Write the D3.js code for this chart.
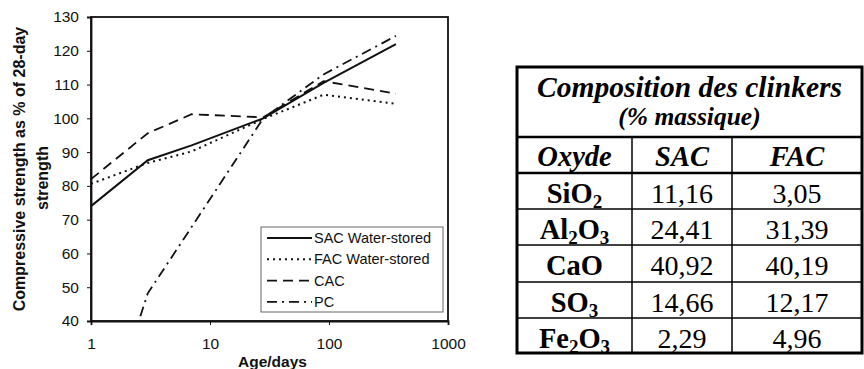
<!DOCTYPE html>
<html>
<head>
<meta charset="utf-8">
<script src="https://cdn.jsdelivr.net/npm/d3@7"></script>
<style>
  body { margin: 0; background: #fff; }
  svg { display: block; }
</style>
</head>
<body>
<script>
// chart data
let ages = [1, 3, 7, 28, 90, 365];
let sacWater = [74, 87.6, 92, 100, 110.5, 122];
let facWater = [80.6, 86.8, 90.2, 99.8, 107, 104.3];
let cac = [82, 95.6, 101.2, 100.3, 111, 107.3];
let pcAges = [2, 3, 7, 28, 90, 365];
let pc = [29, 48.2, 67.8, 100, 113, 124.4];
let seriesNames = ["SAC Water-stored", "FAC Water-stored", "CAC", "PC"];
let yTicks = [40, 50, 60, 70, 80, 90, 100, 110, 120, 130];
let xTicks = [1, 10, 100, 1000];

// table data
let tableTitle = "Composition des clinkers";
let tableSubtitle = "(% massique)";
let tableHeaders = ["Oxyde", "SAC", "FAC"];
let oxides = [["Si", "O", "2"], ["Al", "2", "O", "3"], ["CaO"], ["S", "O", "3"], ["Fe", "2", "O", "3"]];
let sacValues = ["11,16", "24,41", "40,92", "14,66", "2,29"];
let facValues = ["3,05", "31,39", "40,19", "12,17", "4,96"];

let svg = d3.select("body").append("svg")
	.attr("width", 864)
	.attr("height", 369);

let width = +svg.attr("width");
let height = +svg.attr("height");

let margin = { top: 17, left: 91, right: 416, bottom: 48 };
let innerWidth = width - margin.left - margin.right; //357
let innerHeight = height - margin.top - margin.bottom; //304

let x = d3.scaleLog().domain([1, 1000]).range([0, innerWidth]);
let y = d3.scaleLinear().domain([40, 130]).range([innerHeight, 0]);

let ink = "#111";
let sans = "'Liberation Sans', Arial, sans-serif";

let g = svg.append("g")
	.attr("transform", `translate(${margin.left}, ${margin.top})`);

g.append("clipPath").attr("id", "plotClip")
	.append("rect")
	.attr("width", innerWidth)
	.attr("height", innerHeight);

// plot frame
g.append("rect")
	.attr("width", innerWidth)
	.attr("height", innerHeight)
	.attr("fill", "none")
	.attr("stroke", ink)
	.attr("stroke-width", 1.8);

// axes
let yAxis = g.append("g")
	.call(d3.axisLeft(y).tickValues(yTicks).tickSize(4).tickPadding(8));
let xAxis = g.append("g")
	.attr("transform", `translate(0, ${innerHeight})`)
	.call(d3.axisBottom(x).tickValues(xTicks).tickFormat(d3.format("d")).tickSize(4).tickPadding(13));

[yAxis, xAxis].forEach(a => {
	a.attr("font-size", 15.5).attr("font-family", sans);
	a.select(".domain").attr("stroke", ink).attr("stroke-width", 1.8);
	a.selectAll(".tick line").attr("stroke", ink).attr("stroke-width", 1);
	a.selectAll("text").attr("fill", ink);
});

// series
let styles = [
	{ dash: null, w: 2 },
	{ dash: "2,4", w: 2 },
	{ dash: "10,6", w: 1.8 },
	{ dash: "10,5,2,5", w: 1.8 }
];
let series = [
	{ name: seriesNames[0], pts: ages.map((a, i) => [a, sacWater[i]]) },
	{ name: seriesNames[1], pts: ages.map((a, i) => [a, facWater[i]]) },
	{ name: seriesNames[2], pts: ages.map((a, i) => [a, cac[i]]) },
	{ name: seriesNames[3], pts: pcAges.map((a, i) => [a, pc[i]]) }
];

let line = d3.line()
	.x(d => x(d[0]))
	.y(d => y(d[1]));

g.append("g")
	.attr("clip-path", "url(#plotClip)")
	.selectAll("path")
	.data(series)
	.enter().append("path")
	.attr("d", d => line(d.pts))
	.attr("fill", "none")
	.attr("stroke", ink)
	.attr("stroke-width", (d, i) => styles[i].w)
	.attr("stroke-dasharray", (d, i) => styles[i].dash);

// legend
let legend = g.append("g")
	.attr("transform", "translate(170, 210)");

legend.append("rect")
	.attr("width", 182)
	.attr("height", 85)
	.attr("fill", "#fff")
	.attr("stroke", "#666")
	.attr("stroke-width", 1);

let rows = legend.selectAll(".row")
	.data(series)
	.enter().append("g")
	.attr("class", "row")
	.attr("transform", (d, i) => `translate(0, ${11 + i * 21.3})`);

rows.append("line")
	.attr("x1", 6).attr("x2", 51)
	.attr("stroke", ink)
	.attr("stroke-width", (d, i) => styles[i].w)
	.attr("stroke-dasharray", (d, i) => styles[i].dash);

rows.append("text")
	.attr("x", 53)
	.attr("dy", "0.35em")
	.attr("font-family", sans)
	.attr("font-size", 14.5)
	.attr("fill", ink)
	.text(d => d.name);

// axis titles
svg.append("text")
	.attr("transform", "translate(25, 169) rotate(-90)")
	.attr("text-anchor", "middle")
	.attr("font-family", sans)
	.attr("font-weight", "bold")
	.attr("font-size", 16)
	.attr("fill", ink)
	.text("Compressive strength as % of 28-day");

svg.append("text")
	.attr("transform", "translate(48, 178) rotate(-90)")
	.attr("text-anchor", "middle")
	.attr("font-family", sans)
	.attr("font-weight", "bold")
	.attr("font-size", 16)
	.attr("fill", ink)
	.text("strength");

svg.append("text")
	.attr("x", margin.left + innerWidth / 2 + 3)
	.attr("y", 367)
	.attr("text-anchor", "middle")
	.attr("font-family", sans)
	.attr("font-weight", "bold")
	.attr("font-size", 15.5)
	.attr("fill", ink)
	.text("Age/days");

/*
  TABLE
*/
let serif = "'Liberation Serif', 'Times New Roman', serif";
let tx = [517, 632, 732, 862];
let ty = [67, 137, 173, 209, 245, 282, 318, 353];

let t = svg.append("g");

// inner thin lines
for (let i = 3; i < ty.length - 1; i++) {
	t.append("line").attr("x1", tx[0]).attr("x2", tx[3]).attr("y1", ty[i]).attr("y2", ty[i])
		.attr("stroke", "#000").attr("stroke-width", 1.5);
}
[1, 2].forEach(i => {
	t.append("line").attr("x1", tx[0]).attr("x2", tx[3]).attr("y1", ty[i]).attr("y2", ty[i])
		.attr("stroke", "#000").attr("stroke-width", 2.5);
});
[1, 2].forEach(i => {
	t.append("line").attr("x1", tx[i]).attr("x2", tx[i]).attr("y1", ty[1]).attr("y2", ty[7])
		.attr("stroke", "#000").attr("stroke-width", 1.5);
});
t.append("rect")
	.attr("x", tx[0]).attr("y", ty[0])
	.attr("width", tx[3] - tx[0]).attr("height", ty[7] - ty[0])
	.attr("fill", "none").attr("stroke", "#000").attr("stroke-width", 3);

let cx = [(tx[0] + tx[1]) / 2, (tx[1] + tx[2]) / 2, (tx[2] + tx[3]) / 2];
let tableMid = (tx[0] + tx[3]) / 2;

t.append("text")
	.attr("x", tableMid).attr("y", 97)
	.attr("text-anchor", "middle")
	.attr("font-family", serif).attr("font-weight", "bold").attr("font-style", "italic")
	.attr("font-size", 29.5)
	.text(tableTitle);

t.append("text")
	.attr("x", tableMid).attr("y", 125)
	.attr("text-anchor", "middle")
	.attr("font-family", serif).attr("font-weight", "bold").attr("font-style", "italic")
	.attr("font-size", 25.5)
	.text(tableSubtitle);

t.selectAll(".hdr")
	.data(tableHeaders)
	.enter().append("text")
	.attr("class", "hdr")
	.attr("x", (d, i) => cx[i]).attr("y", 166)
	.attr("text-anchor", "middle")
	.attr("font-family", serif).attr("font-weight", "bold").attr("font-style", "italic")
	.attr("font-size", 28.5)
	.text(d => d);

// oxide names with subscripts
oxides.forEach((parts, r) => {
	let txt = t.append("text")
		.attr("x", cx[0]).attr("y", ty[r + 2] + 30)
		.attr("text-anchor", "middle")
		.attr("font-family", serif).attr("font-weight", "bold")
		.attr("font-size", 28.5);
	let shift = 0;
	parts.forEach(p => {
		let isSub = /^[0-9]$/.test(p);
		let target = isSub ? 5 : 0;
		txt.append("tspan")
			.attr("font-size", isSub ? 19 : 28.5)
			.attr("dy", target - shift)
			.text(p);
		shift = target;
	});
});

[sacValues, facValues].forEach((vals, c) => {
	t.selectAll(".v" + c)
		.data(vals)
		.enter().append("text")
		.attr("class", "v" + c)
		.attr("x", cx[c + 1]).attr("y", (d, i) => ty[i + 2] + 30)
		.attr("text-anchor", "middle")
		.attr("font-family", serif)
		.attr("font-size", 28)
		.text(d => d);
});
</script>
</body>
</html>
